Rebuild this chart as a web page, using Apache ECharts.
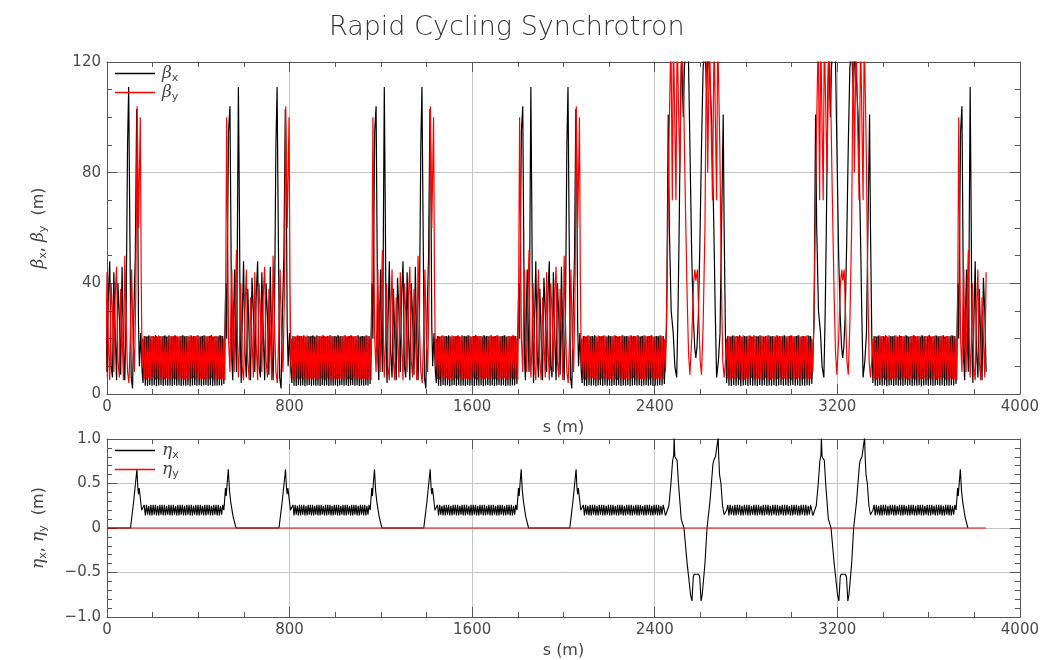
<!DOCTYPE html>
<html><head><meta charset="utf-8">
<script src="https://cdn.jsdelivr.net/npm/echarts/dist/echarts.min.js"></script>
<style>html,body{margin:0;padding:0;background:#fff}#c{width:1042px;height:660px}</style>
</head><body><div id="c"></div>
<script>
// ---------- tick labels ----------
const sTicks = [0, 800, 1600, 2400, 3200, 4000];
const betaTicks = [0, 40, 80, 120];
const etaTicks = [-1.0, -0.5, 0, 0.5, 1.0];

// ---------- lattice layout (m) ----------
const arcStart = [158, 810, 1443, 2082, 2715, 3356];
const arcEnd   = [512, 1153, 1796, 2442, 3088, 3720];
const insStart = [512, 1153, 1796];
const insEnd   = [810, 1443, 2082];
const bigStart = [2442, 3088];
const bigEnd   = [2715, 3356];
const halfInsCut = 132;
const lastInsStart = 3720;
const lastInsCut = 136;

// ---------- FODO arc: values at successive quadrupoles (36 cells) ----------
const arcBx = [4,
 21,3.0,20.8,2.9,21.1,3.3,20.9,3.0,21,3.2,
 21.2,2.8,20.7,3.1,21,3.3,20.9,2.9,21.1,3.2,
 20.8,3.0,21.2,3.1,21,2.9,20.9,3.3,21.1,3.0,
 20.8,3.2,21,2.9,21.2,3.1,20.9,3.0,21,3.2,
 20.8,2.8,21.1,3.1,21,3.3,20.9,3.0,21.2,3.2,
 20.8,2.9,21,3.1,21.1,3.3,20.9,3.0,21,3.2,
 21.2,2.9,20.8,3.1,21,3.0,20.9,3.2,21.1,3.1,
 21,3.6];
const arcBy = [20,
 5.4,21,5.2,20.9,5.7,21.1,5.3,21,5.8,20.8,
 5.2,21,5.5,21.2,5.1,20.9,5.6,21,5.3,21.1,
 5.8,20.8,5.2,21,5.4,20.9,5.6,21.2,5.3,21,
 5.1,20.8,5.8,21,5.4,21.1,5.2,20.9,5.6,21,
 5.3,21.2,5.4,20.8,5.8,21,5.2,21.1,5.6,20.9,
 5.3,21,5.4,21.2,5.1,20.9,5.6,21,5.3,21.1,
 5.8,20.8,5.2,21,5.4,20.9,5.6,21.2,5.3,21,
 5.4,20];
const arcEta = [0.2,
 0.26,0.14,0.26,0.15,0.25,0.14,0.26,0.14,0.26,0.15,
 0.26,0.14,0.25,0.14,0.26,0.15,0.26,0.14,0.26,0.14,
 0.25,0.15,0.26,0.14,0.26,0.14,0.26,0.15,0.25,0.14,
 0.26,0.14,0.26,0.15,0.26,0.14,0.25,0.14,0.26,0.15,
 0.26,0.14,0.26,0.14,0.25,0.15,0.26,0.14,0.26,0.14,
 0.26,0.15,0.25,0.14,0.26,0.14,0.26,0.15,0.26,0.14,
 0.25,0.14,0.26,0.15,0.26,0.14,0.26,0.14,0.25,0.15,
 0.26,0.2];

// ---------- regular insertion template [u (m), value], u = 0..290 ----------
const insLen = 290;
const insBx = [[0,4],[4,20],[8,40],[12,20],[16,60],[20,95],[26,104],[30,60],[34,12],[38,5],[42,30],[46,45],[50,20],[54,8],[58,60],[62,111],[66,70],[70,20],[74,4],[78,25],[84,48],[90,15],[96,6],[102,38],[108,20],[114,5],[120,42],[126,30],[132,8],[138,36],[144,48],[150,10],[156,6],[162,44],[168,22],[174,5],[180,40],[186,28],[192,7],[198,46],[204,18],[210,5],[216,30],[222,90],[227,111],[232,60],[238,6],[244,2],[250,30],[256,50],[262,103],[266,80],[270,25],[274,10],[280,22],[286,8],[290,4]];
const insBy = [[0,20],[4,5],[8,40],[12,100],[16,60],[20,20],[26,8],[30,30],[34,45],[38,20],[44,8],[50,40],[54,52],[58,20],[62,6],[66,15],[72,40],[78,10],[84,5],[90,30],[96,45],[102,12],[108,5],[114,35],[120,20],[126,6],[132,44],[138,18],[144,5],[150,40],[156,30],[162,8],[168,36],[174,46],[180,12],[186,6],[192,38],[198,22],[204,5],[210,50],[216,25],[222,8],[228,4],[234,20],[240,45],[246,20],[252,8],[258,35],[264,104],[270,60],[278,100],[282,40],[286,10],[290,20]];
const insEta = [[0,0.2],[3,0.3],[7,0.45],[10,0.36],[14,0.5],[19,0.66],[24,0.42],[30,0.28],[40,0.12],[52,0],[235,0],[242,0.15],[249,0.3],[263,0.66],[267,0.45],[270,0.38],[273,0.45],[284,0.2],[290,0.2]];

// ---------- large-beta insertion template [u (m), value], u = 0..273 ----------
const bigLen = 273;
const bigBx = [[0,4],[5,15],[10,25],[17,101],[22,60],[30,30],[39,22],[46,10],[54,6],[60,30],[65,60],[72,110],[76,125],[80,110],[83,100],[88,118],[93,125],[100,128],[105,125],[112,90],[120,50],[127,28],[133,17],[138,13],[143,17],[149,28],[156,55],[163,90],[170,118],[178,125],[185,110],[193,125],[200,125],[207,100],[212,80],[217,60],[223,30],[229,6],[237,12],[244,22],[251,22],[258,101],[262,60],[268,20],[273,4]];
const bigBy = [[0,20],[5,8],[12,40],[20,90],[29,130],[35,70],[40,130],[44,130],[51,70],[56,130],[62,130],[68,80],[76,130],[84,110],[92,70],[100,35],[106,15],[112,7],[120,20],[128,40],[134,45],[138,41],[141,41],[145,45],[152,25],[157,12],[163,7],[170,25],[178,60],[185,130],[190,80],[198,130],[205,130],[211,70],[218,130],[224,130],[229,70],[234,130],[243,90],[250,40],[256,12],[262,6],[268,12],[273,20]];
const bigEta = [[0,0.2],[5,0.14],[11,0.15],[20,0.25],[29,0.5],[36,0.75],[41,0.82],[43,1.02],[46,0.8],[50,0.78],[56,0.76],[62,0.5],[74,0.1],[86,0],[100,-0.4],[115,-0.75],[121,-0.82],[127,-0.55],[131,-0.52],[150,-0.52],[155,-0.55],[161,-0.82],[166,-0.75],[178,-0.4],[187,0],[200,0.3],[213,0.72],[218,0.77],[224,0.8],[236,1.02],[238,0.82],[242,0.6],[248,0.5],[255,0.25],[262,0.15],[268,0.14],[273,0.2]];

const etaY = [[0,0],[3851,0]];

// ---------- assemble ----------
function placeTpl(tpl, s0, s1, len) { const k = (s1 - s0) / len; return tpl.map(p => [s0 + p[0] * k, p[1]]); }
function placeArc(vals, s0, s1) { const n = vals.length - 1; return vals.map((v, i) => [s0 + (s1 - s0) * i / n, v]); }
function build(arcVals, insTpl, bigTpl, startVal) {
  let out = [];
  const first = insTpl.filter(p => p[0] >= halfInsCut - 8).map(p => [p[0] - halfInsCut, p[1]]);
  if (startVal !== undefined) out.push([0, startVal]);
  out = out.concat(first.filter(p => p[0] >= 0 || startVal === undefined));
  const order = [['arc',0],['ins',0],['arc',1],['ins',1],['arc',2],['ins',2],['arc',3],['big',0],['arc',4],['big',1],['arc',5]];
  order.forEach(([t, i]) => {
    if (t === 'arc') out = out.concat(placeArc(arcVals, arcStart[i], arcEnd[i]).slice(1));
    else if (t === 'ins') out = out.concat(placeTpl(insTpl, insStart[i], insEnd[i], insLen).slice(1));
    else out = out.concat(placeTpl(bigTpl, bigStart[i], bigEnd[i], bigLen).slice(1));
  });
  const last = insTpl.filter(p => p[0] > 0 && p[0] <= lastInsCut).map(p => [lastInsStart + p[0], p[1]]);
  return out.concat(last);
}
const bxData = build(arcBx, insBx, bigBx);
const byData = build(arcBy, insBy, bigBy);
const etaxData = build(arcEta, insEta, bigEta, 0);

const chart = echarts.init(document.getElementById('c'));
const FONT = 'DejaVu Sans';
const TXT = '#444';
const AX = '#555';
const GRID = '#c4c4c4';
const richG = {
  g: { fontFamily: 'DejaVu Serif', fontStyle: 'italic', fontSize: 17, color: TXT },
  s: { fontFamily: FONT, fontSize: 11, color: TXT, verticalAlign: 'bottom', padding: [10, 0, 0, 0] },
  t: { fontFamily: FONT, fontSize: 16, color: TXT }
};
const tickFont = { fontFamily: FONT, fontSize: 15, color: '#4a4a4a', margin: 6 };
function xAx(gi, labels) {
  return {
    type: 'value', gridIndex: gi, min: 0, max: 4000, interval: 800,
    name: labels ? 's (m)' : '', nameLocation: 'middle', nameGap: 26,
    nameTextStyle: { fontFamily: FONT, fontSize: 16, color: TXT },
    position: labels ? 'bottom' : 'top',
    axisLine: { show: true, onZero: false, lineStyle: { color: AX, width: 1 } },
    axisTick: { show: true, inside: true, length: 10, lineStyle: { color: AX } },
    minorTick: { show: true, splitNumber: 4, length: 5, lineStyle: { color: AX } },
    axisLabel: Object.assign({ show: labels, formatter: v => sTicks.includes(v) ? String(v) : '' }, tickFont),
    splitLine: { show: labels, lineStyle: { color: GRID, width: 1 } }
  };
}
function yAx(gi, isBeta, labels) {
  const base = {
    type: 'value', gridIndex: gi, position: labels ? 'left' : 'right',
    axisLine: { show: true, onZero: false, lineStyle: { color: AX, width: 1 } },
    axisTick: { show: true, inside: true, length: 10, lineStyle: { color: AX } },
    minorTick: { show: true, splitNumber: isBeta ? 4 : 5, length: 5, lineStyle: { color: AX } },
    splitLine: { show: labels, lineStyle: { color: GRID, width: 1 } },
    nameLocation: 'middle', nameRotate: 90, nameGap: 58,
    nameTextStyle: { rich: richG }
  };
  if (isBeta) Object.assign(base, { min: 0, max: 120, interval: 40,
    axisLabel: Object.assign({ show: labels, formatter: v => betaTicks.includes(v) ? String(v) : '' }, tickFont),
    name: labels ? '{g|β}{s|x}{t|, }{g|β}{s|y}{t|  (m)}' : '' });
  else Object.assign(base, { min: -1, max: 1, interval: 0.5,
    axisLabel: Object.assign({ show: labels,
      formatter: v => v === 0 ? '0' : (v < 0 ? '\u2212' : '') + Math.abs(v).toFixed(1) }, tickFont),
    name: labels ? '{g|η}{s|x}{t|, }{g|η}{s|y}{t|  (m)}' : '' });
  return base;
}
function legendFor(names, top) {
  return {
    data: names, orient: 'vertical', left: 110, top: top, itemGap: 0,
    itemWidth: 40, itemHeight: 1.5, icon: 'rect',
    formatter: n => '{g|' + n[0] + '}{s|' + n.slice(1) + '}',
    textStyle: { rich: richG, padding: [0, 0, 0, 2] }
  };
}
const lineS = (name, data, color, x, y, z, w) => ({
  name, type: 'line', data, xAxisIndex: x, yAxisIndex: y, showSymbol: false, symbol: 'none',
  lineStyle: { color, width: w }, itemStyle: { color }, z, animation: false, clip: true
});

chart.setOption({
  animation: false,
  backgroundColor: '#fff',
  title: { text: 'Rapid Cycling Synchrotron', left: 324, top: 9,
    textStyle: { fontFamily: FONT, fontWeight: 'lighter', fontSize: 27, color: '#333' } },
  grid: [
    { left: 107, top: 62, width: 913, height: 332 },
    { left: 107, top: 439, width: 913, height: 183 }
  ],
  xAxis: [xAx(0, true), xAx(1, true), xAx(0, false), xAx(1, false)],
  yAxis: [yAx(0, true, true), yAx(1, false, true), yAx(0, true, false), yAx(1, false, false)],
  legend: [legendFor(['βx', 'βy'], 60), legendFor(['ηx', 'ηy'], 437)],
  series: [
    lineS('βx', bxData, '#000000', 0, 0, 2, 1.2),
    lineS('βy', byData, '#ff0000', 0, 0, 3, 1.2),
    lineS('ηx', etaxData, '#000000', 1, 1, 2, 1.1),
    lineS('ηy', etaY, '#ff0000', 1, 1, 3, 1.2)
  ]
});
</script></body></html>
